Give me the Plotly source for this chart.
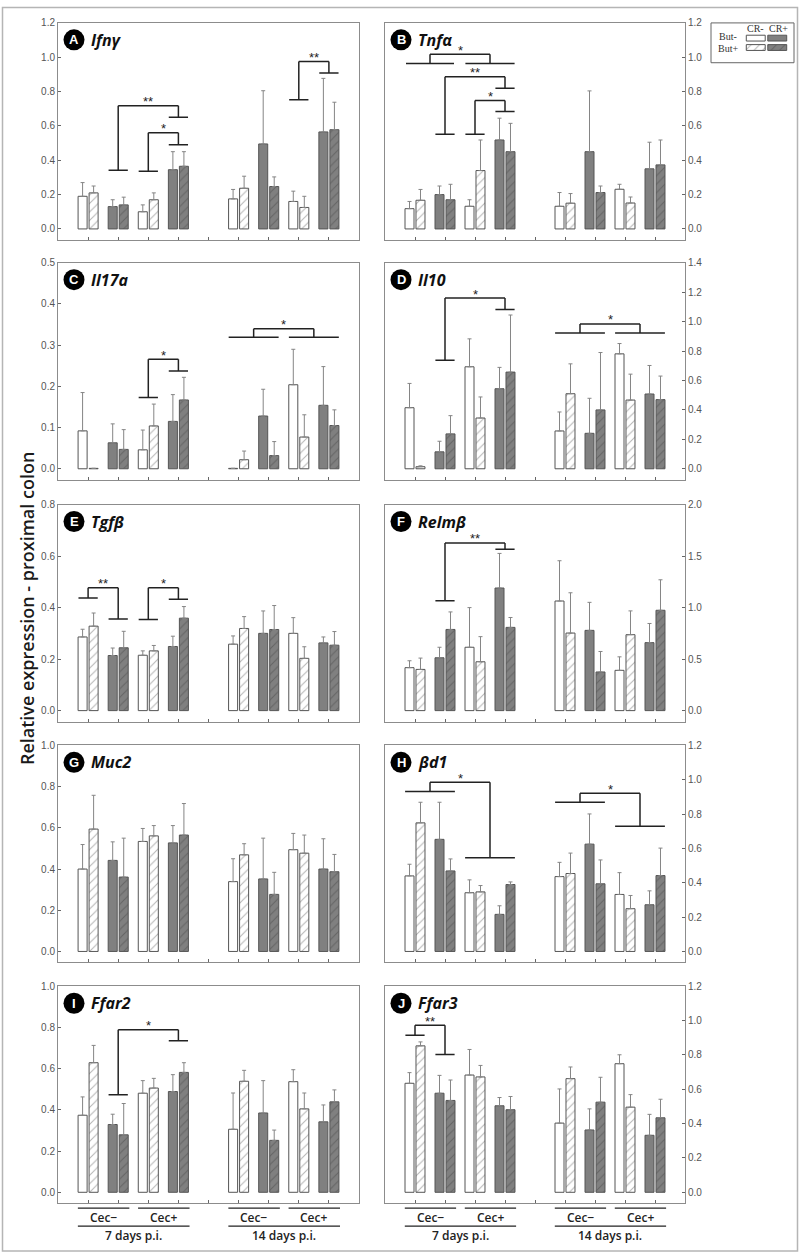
import plotly.graph_objects as go

FIG_W, FIG_H = 800, 1253

# ---------------- data ----------------
genes = ["Ifnγ", "Tnfα", "Il17a", "Il10", "Tgfβ", "Relmβ", "Muc2", "βd1", "Ffar2", "Ffar3"]
letters = ["A", "B", "C", "D", "E", "F", "G", "H", "I", "J"]
y_max = [1.2, 1.2, 0.5, 1.4, 0.8, 2.0, 1.0, 1.2, 1.0, 1.2]
y_dtick = [0.2, 0.2, 0.1, 0.2, 0.2, 0.5, 0.2, 0.2, 0.2, 0.2]

# bar positions: 7 d p.i. (Cec- CR-, Cec- CR+, Cec+ CR-, Cec+ CR+), 14 d p.i. (same)
positions = [1, 2, 3, 4, 6, 7, 8, 9]
cr_status = ["CR-", "CR+", "CR-", "CR+", "CR-", "CR+", "CR-", "CR+"]

# mean values (But- / But+) and upper whisker tops, in position order
ifng_but_minus = [0.19, 0.13, 0.10, 0.345, 0.175, 0.495, 0.16, 0.565]
ifng_but_minus_top = [0.27, 0.17, 0.14, 0.45, 0.23, 0.805, 0.22, 0.877]
ifng_but_plus = [0.21, 0.14, 0.17, 0.365, 0.237, 0.247, 0.125, 0.578]
ifng_but_plus_top = [0.25, 0.185, 0.21, 0.45, 0.307, 0.303, 0.19, 0.738]

tnfa_but_minus = [0.118, 0.20, 0.132, 0.518, 0.132, 0.45, 0.231, 0.35]
tnfa_but_minus_top = [0.16, 0.25, 0.17, 0.645, 0.212, 0.804, 0.26, 0.505]
tnfa_but_plus = [0.167, 0.17, 0.34, 0.45, 0.15, 0.212, 0.151, 0.373]
tnfa_but_plus_top = [0.23, 0.26, 0.518, 0.615, 0.206, 0.25, 0.186, 0.518]

il17a_but_minus = [0.092, 0.063, 0.046, 0.115, 0.001, 0.128, 0.204, 0.154]
il17a_but_minus_top = [0.185, 0.109, 0.094, 0.18, 0.001, 0.193, 0.29, 0.248]
il17a_but_plus = [0.001, 0.047, 0.104, 0.167, 0.022, 0.032, 0.077, 0.105]
il17a_but_plus_top = [0.001, 0.095, 0.157, 0.222, 0.043, 0.066, 0.131, 0.143]

il10_but_minus = [0.415, 0.115, 0.693, 0.544, 0.257, 0.241, 0.781, 0.508]
il10_but_minus_top = [0.58, 0.187, 0.883, 0.689, 0.386, 0.479, 0.851, 0.702]
il10_but_plus = [0.014, 0.237, 0.345, 0.657, 0.51, 0.40, 0.467, 0.47]
il10_but_plus_top = [0.02, 0.361, 0.488, 1.045, 0.713, 0.79, 0.643, 0.63]

tgfb_but_minus = [0.286, 0.214, 0.215, 0.249, 0.258, 0.30, 0.30, 0.263]
tgfb_but_minus_top = [0.316, 0.243, 0.232, 0.289, 0.29, 0.387, 0.361, 0.286]
tgfb_but_plus = [0.328, 0.244, 0.232, 0.359, 0.319, 0.315, 0.203, 0.254]
tgfb_but_plus_top = [0.379, 0.308, 0.253, 0.404, 0.365, 0.408, 0.248, 0.307]

relmb_but_minus = [0.417, 0.513, 0.615, 1.19, 1.064, 0.779, 0.391, 0.66]
relmb_but_minus_top = [0.484, 0.615, 1.0, 1.526, 1.455, 1.051, 0.522, 0.846]
relmb_but_plus = [0.40, 0.788, 0.474, 0.808, 0.753, 0.375, 0.737, 0.974]
relmb_but_plus_top = [0.51, 0.958, 0.718, 0.904, 1.144, 0.574, 0.968, 1.27]

muc2_but_minus = [0.40, 0.442, 0.534, 0.527, 0.339, 0.352, 0.494, 0.40]
muc2_but_minus_top = [0.519, 0.532, 0.597, 0.611, 0.45, 0.55, 0.573, 0.547]
muc2_but_plus = [0.594, 0.361, 0.561, 0.565, 0.469, 0.277, 0.477, 0.387]
muc2_but_plus_top = [0.758, 0.55, 0.611, 0.718, 0.523, 0.384, 0.565, 0.471]

bd1_but_minus = [0.44, 0.653, 0.342, 0.216, 0.436, 0.625, 0.332, 0.272]
bd1_but_minus_top = [0.508, 0.869, 0.417, 0.266, 0.519, 0.801, 0.459, 0.353]
bd1_but_plus = [0.749, 0.469, 0.347, 0.39, 0.454, 0.394, 0.249, 0.442]
bd1_but_plus_top = [0.869, 0.539, 0.384, 0.405, 0.573, 0.533, 0.326, 0.602]

ffar2_but_minus = [0.374, 0.329, 0.481, 0.489, 0.306, 0.385, 0.537, 0.342]
ffar2_but_minus_top = [0.463, 0.379, 0.542, 0.571, 0.482, 0.542, 0.595, 0.424]
ffar2_but_plus = [0.629, 0.279, 0.506, 0.582, 0.539, 0.252, 0.405, 0.439]
ffar2_but_plus_top = [0.713, 0.431, 0.553, 0.629, 0.592, 0.302, 0.482, 0.497]

ffar3_but_minus = [0.635, 0.577, 0.683, 0.504, 0.403, 0.363, 0.749, 0.332]
ffar3_but_minus_top = [0.697, 0.681, 0.832, 0.552, 0.602, 0.486, 0.801, 0.454]
ffar3_but_plus = [0.853, 0.535, 0.672, 0.481, 0.662, 0.525, 0.496, 0.434]
ffar3_but_plus_top = [0.876, 0.654, 0.739, 0.558, 0.73, 0.67, 0.569, 0.542]

panel_data = [
    (ifng_but_minus, ifng_but_minus_top, ifng_but_plus, ifng_but_plus_top),
    (tnfa_but_minus, tnfa_but_minus_top, tnfa_but_plus, tnfa_but_plus_top),
    (il17a_but_minus, il17a_but_minus_top, il17a_but_plus, il17a_but_plus_top),
    (il10_but_minus, il10_but_minus_top, il10_but_plus, il10_but_plus_top),
    (tgfb_but_minus, tgfb_but_minus_top, tgfb_but_plus, tgfb_but_plus_top),
    (relmb_but_minus, relmb_but_minus_top, relmb_but_plus, relmb_but_plus_top),
    (muc2_but_minus, muc2_but_minus_top, muc2_but_plus, muc2_but_plus_top),
    (bd1_but_minus, bd1_but_minus_top, bd1_but_plus, bd1_but_plus_top),
    (ffar2_but_minus, ffar2_but_minus_top, ffar2_but_plus, ffar2_but_plus_top),
    (ffar3_but_minus, ffar3_but_minus_top, ffar3_but_plus, ffar3_but_plus_top),
]

# significance brackets: (left x, left foot y, left half-width, right x, right foot y, right half-width, top y, label)
brackets = [
    [(2, 0.342, 0.32, 4, 0.65, 0.32, 0.718, "**"), (3, 0.336, 0.32, 4, 0.49, 0.32, 0.56, "*"),
     (8, 0.753, 0.32, 9, 0.909, 0.32, 0.975, "**")],
    [(1.5, 0.963, 0.8, 3.5, 0.963, 0.82, 1.017, "*"), (2, 0.551, 0.32, 4, 0.82, 0.32, 0.887, "**"),
     (3, 0.551, 0.32, 4, 0.684, 0.32, 0.748, "*")],
    [(3, 0.173, 0.32, 4, 0.237, 0.32, 0.266, "*"), (6.5, 0.319, 0.83, 8.5, 0.319, 0.83, 0.34, "*")],
    [(2, 0.738, 0.32, 4, 1.083, 0.32, 1.16, "*"), (6.5, 0.923, 0.83, 8.5, 0.923, 0.83, 0.984, "*")],
    [(1, 0.437, 0.32, 2, 0.356, 0.32, 0.477, "**"), (3, 0.354, 0.32, 4, 0.432, 0.32, 0.477, "*")],
    [(2, 1.067, 0.32, 4, 1.567, 0.32, 1.628, "**")],
    [],
    [(1.5, 0.932, 0.83, 3.5, 0.546, 0.83, 0.985, "*"), (6.5, 0.869, 0.83, 8.5, 0.73, 0.83, 0.921, "*")],
    [(2, 0.473, 0.32, 4, 0.735, 0.32, 0.789, "*")],
    [(1, 0.915, 0.32, 2, 0.803, 0.32, 0.973, "**")],
]

group_labels = ["Cec\u2212", "Cec+", "Cec\u2212", "Cec+"]
group_centers = [1.5, 3.5, 6.5, 8.5]
day_labels = ["7 days p.i.", "14 days p.i."]
day_centers = [2.5, 7.5]

# ---------------- styling / layout ----------------
WHITE = "#ffffff"
GRAY = "#808080"
EDGE = "#555555"
ERR = "#858585"
FRAME = "#8c8c8c"

col_px = [(58, 359), (385, 685)]
row_top_px = [17, 258, 501, 743, 985]
PANEL_H = 218
BAR_W = 0.3


def px_x(p):
    return p / FIG_W


def px_y(p):
    return 1 - p / FIG_H


fig = go.Figure()
layout = dict(
    width=FIG_W, height=FIG_H,
    margin=dict(l=0, r=0, t=0, b=0),
    paper_bgcolor="white", plot_bgcolor="white",
    barmode="overlay", showlegend=False,
    font=dict(family="Liberation Sans, Arial, sans-serif", color="#444"),
)
shapes = []
annotations = []


def bar_style(kind):
    if kind == "white":
        return dict(color=WHITE, line=dict(color=EDGE, width=1))
    if kind == "white_hatch":
        return dict(color=WHITE, line=dict(color=EDGE, width=1),
                    pattern=dict(shape="/", fgcolor="#6f6f6f", bgcolor=WHITE, size=6, solidity=0.18))
    if kind == "gray":
        return dict(color=GRAY, line=dict(color=EDGE, width=1))
    return dict(color=GRAY, line=dict(color=EDGE, width=1),
                pattern=dict(shape="/", fgcolor="#4a4a4a", bgcolor=GRAY, size=6, solidity=0.18))


for i in range(10):
    row, col = divmod(i, 2)
    ax = "" if i == 0 else str(i + 1)
    xa, ya = "x" + ax, "y" + ax
    x0p, x1p = col_px[col]
    top = row_top_px[row]
    bot = top + PANEL_H
    ymax = y_max[i]
    ymin = -ymax * 11 / 207

    bm, bm_top, bp, bp_top = panel_data[i]
    for idx_set, base_kind in (([0, 2, 4, 6], "white"), ([1, 3, 5, 7], "gray")):
        xs = [positions[k] for k in idx_set]
        for vals, tops, off, kind in ((bm, bm_top, -0.333, base_kind), (bp, bp_top, 0.033, base_kind + "_hatch")):
            ys = [vals[k] for k in idx_set]
            errs = [max(tops[k] - vals[k], 0) for k in idx_set]
            fig.add_trace(go.Bar(
                x=xs, y=ys, width=BAR_W, offset=off, xaxis=xa, yaxis=ya,
                marker=bar_style(kind),
                error_y=dict(type="data", symmetric=False, array=errs, arrayminus=[0] * len(errs),
                             color=ERR, thickness=1, width=2),
                hoverinfo="x+y", showlegend=False,
            ))

    layout["xaxis" + ax] = dict(
        domain=[px_x(x0p), px_x(x1p)], anchor=ya, range=[0, 10],
        tickvals=list(range(1, 10)), showticklabels=False, ticks="inside", ticklen=3,
        tickcolor="#666", showline=True, mirror=True, linecolor=FRAME, linewidth=1,
        showgrid=False, zeroline=False, fixedrange=True,
    )
    nt = int(round(ymax / y_dtick[i]))
    tv = [round(k * y_dtick[i], 3) for k in range(nt + 1)]
    layout["yaxis" + ax] = dict(
        domain=[px_y(bot), px_y(top)], anchor=xa, range=[ymin, ymax],
        tickvals=tv, ticktext=[f"{v:.1f}" for v in tv],
        side="left" if col == 0 else "right",
        ticks="inside", ticklen=3, tickcolor="#666",
        tickfont=dict(size=10, color="#555", family="Liberation Sans, Arial"),
        showline=True, mirror=True, linecolor=FRAME, linewidth=1,
        showgrid=False, zeroline=False, fixedrange=True,
    )

    # panel letter circle + gene name
    cx, cy = x0p + 16, top + 17
    shapes.append(dict(type="circle", xref="paper", yref="paper", xsizemode="pixel", ysizemode="pixel",
                       xanchor=px_x(cx), yanchor=px_y(cy), x0=-10.5, x1=10.5, y0=-10.5, y1=10.5,
                       fillcolor="black", line=dict(color="black", width=0)))
    annotations.append(dict(text=f"<b>{letters[i]}</b>", xref="paper", yref="paper", x=px_x(cx), y=px_y(cy),
                            showarrow=False, xanchor="center", yanchor="middle",
                            font=dict(size=13, color="white", family="Liberation Sans, Arial")))
    annotations.append(dict(text=f"<b><i>{genes[i]}</i></b>", xref="paper", yref="paper",
                            x=px_x(x0p + 31), y=px_y(cy), showarrow=False, xanchor="left", yanchor="middle",
                            font=dict(size=16, color="#111", family="Open Sans, Liberation Sans")))

    # significance brackets
    lc = dict(color="#222", width=1.5)
    for (xl, yl, wl, xr, yr, wr, yt, lab) in brackets[i]:
        segs = [
            (xl - wl, yl, xl + wl, yl),
            (xl, yl, xl, yt),
            (xl, yt, xr, yt),
            (xr, yt, xr, yr),
            (xr - wr, yr, xr + wr, yr),
        ]
        for (a, b, c, d) in segs:
            shapes.append(dict(type="line", xref=xa, yref=ya, x0=a, y0=b, x1=c, y1=d, line=lc))
        annotations.append(dict(text=lab, xref=xa, yref=ya, x=(xl + xr) / 2, y=yt, showarrow=False,
                                xanchor="center", yanchor="middle", yshift=4,
                                font=dict(size=13, color="#222", family="Liberation Sans, Arial")))

    # group labels under bottom panels
    if row == 4:
        y_line1 = px_y(bot + 5)
        y_line2 = px_y(bot + 23)
        for gc, gl in zip(group_centers, group_labels):
            shapes.append(dict(type="line", xref=xa, yref="paper", x0=gc - 0.84, x1=gc + 0.87,
                               y0=y_line1, y1=y_line1, line=dict(color="#222", width=1.2)))
            annotations.append(dict(text=gl, xref=xa, yref="paper", x=gc, y=px_y(bot + 14), showarrow=False,
                                    xanchor="center", yanchor="middle",
                                    font=dict(size=12, color="#222", family="Open Sans", weight=600)))
        for dc, dl in zip(day_centers, day_labels):
            shapes.append(dict(type="line", xref=xa, yref="paper", x0=dc - 1.84, x1=dc + 1.87,
                               y0=y_line2, y1=y_line2, line=dict(color="#222", width=1.2)))
            annotations.append(dict(text=dl, xref=xa, yref="paper", x=dc, y=px_y(bot + 32), showarrow=False,
                                    xanchor="center", yanchor="middle",
                                    font=dict(size=12, color="#222", family="Open Sans", weight=600)))

# y-axis title
annotations.append(dict(text="Relative expression - proximal colon", xref="paper", yref="paper",
                        x=px_x(27), y=px_y(606), textangle=-90, showarrow=False,
                        xanchor="center", yanchor="middle",
                        font=dict(size=18, color="#1a1a1a", family="Open Sans", weight=600)))

# outer frame
shapes.append(dict(type="rect", xref="paper", yref="paper", x0=px_x(2.5), x1=px_x(797.5),
                   y0=px_y(1251), y1=px_y(1.5), line=dict(color="#b5b5b5", width=1.5)))

# legend box
shapes.append(dict(type="rect", xref="paper", yref="paper", x0=px_x(711), x1=px_x(794),
                   y0=px_y(57), y1=px_y(17), line=dict(color="#666", width=1), fillcolor="rgba(0,0,0,0)"))
leg_font = dict(size=10, color="#333", family="Liberation Serif, Times New Roman")
for txt, xx, yy in (("But-", 728, 31), ("But+", 728, 43)):
    annotations.append(dict(text=txt, xref="paper", yref="paper", x=px_x(xx), y=px_y(yy), showarrow=False,
                            xanchor="center", yanchor="middle", font=leg_font))
for txt, xx in (("CR-", 755), ("CR+", 778)):
    annotations.append(dict(text=txt, xref="paper", yref="paper", x=px_x(xx), y=px_y(23), showarrow=False,
                            xanchor="center", yanchor="middle", font=leg_font))

legend_cols = [0, 1]
legend_kinds = [("white", "gray"), ("white_hatch", "gray_hatch")]
legend_rows = [1.2, 0.15]
for r, (k0, k1) in enumerate(legend_kinds):
    for c, kind in zip(legend_cols, (k0, k1)):
        fig.add_trace(go.Bar(x=[c], y=[0.65], base=[legend_rows[r]], width=0.88, xaxis="x11", yaxis="y11",
                             marker=bar_style(kind), hoverinfo="skip", showlegend=False))
layout["xaxis11"] = dict(domain=[px_x(745), px_x(788)], anchor="y11", range=[-0.5, 1.5], visible=False,
                         fixedrange=True)
layout["yaxis11"] = dict(domain=[px_y(46), px_y(28)], anchor="x11", range=[0, 2], visible=False,
                         fixedrange=True)

layout["shapes"] = shapes
layout["annotations"] = annotations
fig.update_layout(**layout)

fig.write_html(
    "out.html",
    config={"displayModeBar": False},
    post_script="document.body.style.margin='0';document.body.style.padding='0';"
                "document.body.style.overflow='hidden';",
)
